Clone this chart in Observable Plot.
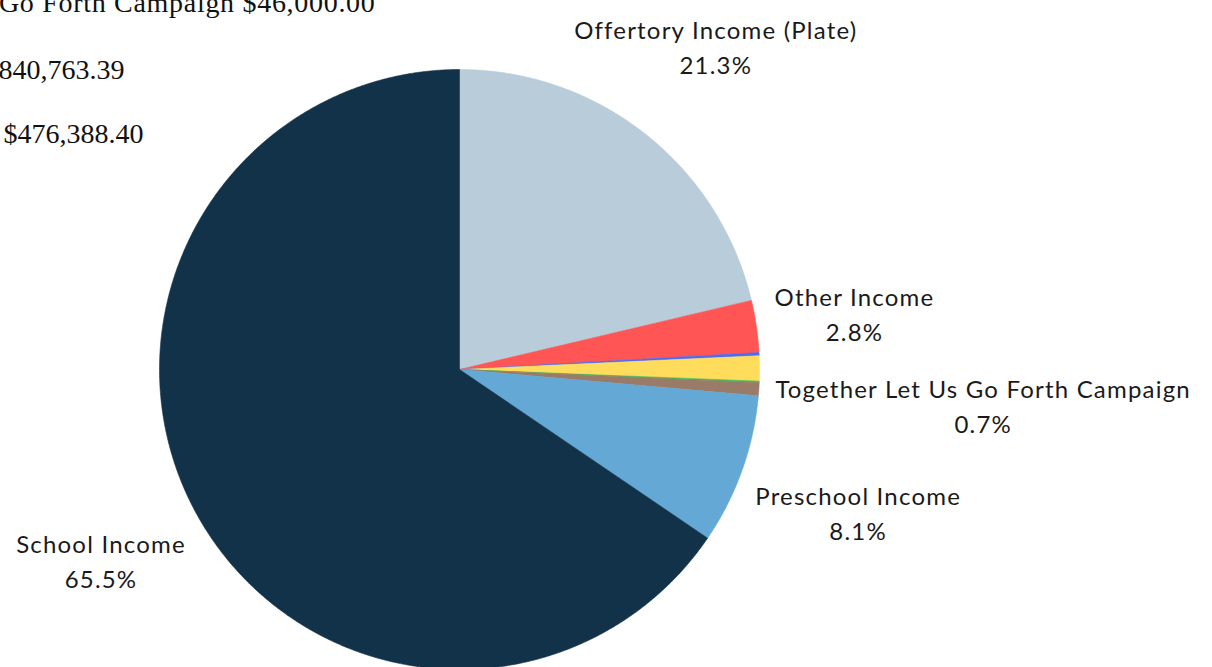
<!DOCTYPE html>
<html>
<head>
<meta charset="utf-8">
<script src="https://cdn.jsdelivr.net/npm/d3@7"></script>
<script src="https://cdn.jsdelivr.net/npm/@observablehq/plot@0.6"></script>
<style>
  html, body { margin: 0; padding: 0; background: #fff; overflow: hidden; }
  #chart svg { display: block; }
  #chart g[font-family^="Lato"] text { letter-spacing: 1.2px; }
  #chart g[fill="#111111"] text { letter-spacing: 0.7px; }
</style>
</head>
<body>
<div id="chart"></div>
<script>
// ---- Data ----
const categories = [
  "Offertory Income (Plate)",
  "Other Income",
  "Unlabeled (blue)",
  "Unlabeled (yellow)",
  "Unlabeled (green)",
  "Together Let Us Go Forth Campaign",
  "Preschool Income",
  "School Income"
];
const shares = [21.3, 2.8, 0.17, 1.35, 0.08, 0.7, 8.1, 65.5];
const labelled = [true, true, false, false, false, true, true, true];
const sliceColors = ["#b8cdd9", "#ff5555", "#4d6cf5", "#ffdc5c", "#3dbb5c", "#9a7b68", "#64a8d5", "#12324a"];
const cornerTexts = ["Together Let Us Go Forth Campaign $46,000.00", "$840,763.39", "$476,388.40"];

// ---- Layout ----
const W = 1212, H = 667;
const cx = 459, cy = 369, R = 300;
const labelFont = 24, labelFamily = "Lato, 'Open Sans', sans-serif", spacing = 1.2;
const topLimit = 45; // label centres stay at least this far below the top edge

const rows = categories.map((name, i) => ({name, value: shares[i], labelled: labelled[i]}));
const arcs = d3.pie().sort(null).value(d => d.value)(rows);

// polygon outline of each slice, in units of the radius
const pts = [];
for (const a of arcs) {
  const name = a.data.name;
  pts.push({name, x: 0, y: 0});
  const n = Math.max(2, Math.ceil((a.endAngle - a.startAngle) / (Math.PI / 720)));
  for (let k = 0; k <= n; k++) {
    const t = a.startAngle + (a.endAngle - a.startAngle) * k / n;
    pts.push({name, x: Math.sin(t), y: Math.cos(t)});
  }
  pts.push({name, x: 0, y: 0});
}

// label placement: just outside the pie, pushed out by the label box size
const ctx = document.createElement("canvas").getContext("2d");
ctx.font = `${labelFont}px ${labelFamily}`;
const tw = s => ctx.measureText(s).width + s.length * spacing;
const labels = arcs.filter(a => a.data.labelled).map(a => {
  const mid = (a.startAngle + a.endAngle) / 2;
  const pct = a.data.value.toFixed(1) + "%";
  const w = Math.max(tw(a.data.name), tw(pct));
  const hh = labelFont * 1.4;
  let d = R + 15 + (w / 2) * Math.abs(Math.sin(mid)) + hh * Math.abs(Math.cos(mid));
  if (Math.cos(mid) > 0 && cy - d * Math.cos(mid) < topLimit) d = (cy - topLimit) / Math.cos(mid);
  return {text: a.data.name + "\n" + pct, x: d * Math.sin(mid) / R, y: d * Math.cos(mid) / R};
});

const cornerMark = (txt, dx, dy, fill) => Plot.text([txt], {
  text: d => d, frameAnchor: "top-left", dx, dy,
  textAnchor: "end", lineAnchor: "middle",
  fontFamily: "'Liberation Serif', serif", fontSize: 28, fill
});

const chart = Plot.plot({
  width: W, height: H,
  margin: 0,
  x: {domain: [-cx / R, (W - cx) / R], axis: null},
  y: {domain: [-(H - cy) / R, cy / R], axis: null},
  color: {domain: categories, range: sliceColors},
  style: {background: "#fff"},
  marks: [
    Plot.line(pts, {x: "x", y: "y", z: "name", fill: "name", stroke: "name", strokeWidth: 0.6, curve: "linear"}),
    Plot.text(labels, {
      x: "x", y: "y", text: "text",
      textAnchor: "middle", lineAnchor: "middle", lineHeight: 1.45,
      fontFamily: labelFamily, fontSize: labelFont, fill: "#1a1a1a"
    }),
    cornerMark(cornerTexts[0], 375, 3, "#111111"),
    cornerMark(cornerTexts[1], 124, 70, "#111"),
    cornerMark(cornerTexts[2], 143, 134, "#111")
  ]
});
document.getElementById("chart").appendChild(chart);
</script>
</body>
</html>
